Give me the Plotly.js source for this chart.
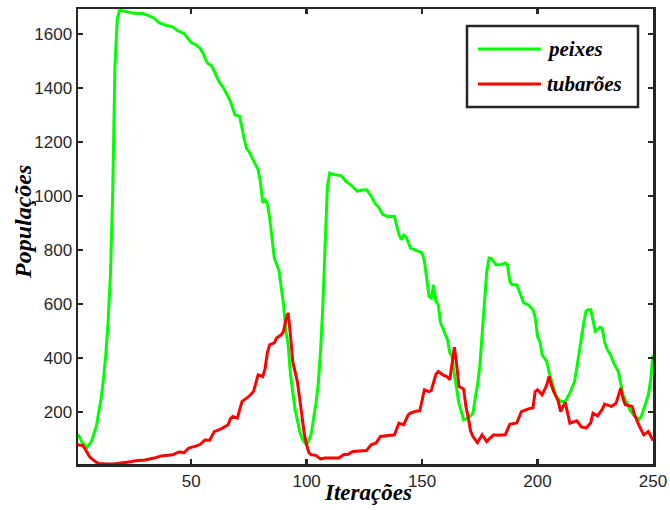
<!DOCTYPE html>
<html>
<head>
<meta charset="utf-8">
<script src="https://cdn.plot.ly/plotly-3.0.1.min.js"></script>
<style>html,body{margin:0;padding:0;background:#fff;}#chart{width:670px;height:510px;}</style>
</head>
<body>
<div id="chart"></div>
<script>
// ---- Data ----
var peixesX = [1,3,5,7,9,10,11,12,13,14,15,16,17,18,19,21,23,25,27,29,31,33,34,36,38,39,42,44,47,48,50,52,54,55,57,59,60,62,64,66,67,69,71,73,74,75,77,79,80,81,82,83,84,85,86,88,89,90,91,92,93,94,95,96,97,98,99,100,101,102,103,104,105,106,107,108,109,110,112,115,117,119,122,124,126,128,130,131,133,135,138,140,141,142,143,145,148,150,151,152,153,154,155,156,157,158,160,161,162,163,164,165,166,167,168,170,172,173,174,175,176,177,178,179,180,182,184,186,187,188,189,191,193,194,196,198,199,200,201,202,204,205,206,208,210,212,214,215,216,217,218,219,220,221,222,223,224,225,227,228,229,230,232,233,235,236,237,239,240,242,243,244,245,246,248,249,250];
var peixesY = [118,85,70,95,150,200,250,320,410,530,700,1000,1480,1655,1688,1684,1680,1676,1675,1676,1669,1662,1658,1641,1635,1632,1626,1613,1601,1590,1568,1560,1545,1530,1492,1480,1460,1424,1400,1363,1350,1300,1295,1209,1175,1165,1128,1097,1050,975,986,970,920,845,770,725,660,600,500,449,340,280,210,170,130,104,88,80,95,120,170,230,300,420,590,850,1036,1085,1079,1075,1054,1042,1017,1022,1023,999,968,961,931,924,924,857,838,855,850,807,795,789,760,700,628,622,671,610,597,530,486,468,420,406,338,290,230,202,171,178,196,250,300,370,500,620,720,770,768,745,745,752,745,684,671,671,628,604,597,579,550,480,461,412,387,345,320,260,239,240,270,290,313,363,412,474,530,573,580,579,540,499,514,510,460,435,405,381,350,300,264,230,208,185,178,172,185,210,264,320,412];

var tubaroesX = [1,3,4,5,6,7,8,9,10,12,14,17,20,23,26,30,34,37,40,42,44,45,47,49,52,54,56,58,60,63,66,67,68,70,72,75,77,79,81,82,83,84,86,87,89,90,91,92,93,94,95,96,97,98,99,100,101,102,104,106,108,110,112,114,116,118,120,123,126,128,130,132,135,138,140,142,144,145,147,149,151,153,154,156,157,159,161,162,163,164,165,166,168,169,170,171,172,174,176,178,179,181,183,186,188,190,191,193,196,198,199,200,202,204,205,206,207,209,210,212,213,214,217,219,221,223,224,226,228,229,232,234,235,236,237,238,241,242,244,246,248,249,250];
var tubaroesY = [79,76,65,48,35,27,20,14,10,8,8,9,11,15,20,23,30,38,40,42,50,52,50,67,74,81,97,96,128,138,153,175,184,178,239,258,276,338,332,360,420,449,456,474,486,499,540,567,486,387,350,313,250,190,120,80,50,42,40,27,30,30,30,30,42,44,54,56,58,80,85,110,112,116,159,153,190,196,202,205,283,276,280,340,350,338,330,320,380,440,375,295,285,220,180,130,110,87,116,91,100,116,114,116,155,159,160,202,212,215,276,283,264,300,332,300,276,240,202,236,190,159,168,145,141,160,196,186,210,230,221,233,260,289,250,227,221,190,150,116,128,110,95];

var seriesNames = ["peixes", "tubarões"];
var xTicks = [50, 100, 150, 200, 250];
var yTicks = [200, 400, 600, 800, 1000, 1200, 1400, 1600];
var xTitle = "Iterações";
var yTitle = "Populações";

// ---- Layout geometry ----
var W = 670, H = 510, L = 78, R = 17, T = 9, B = 46;
var pw = W - L - R, ph = H - T - B;
function px(x) { return (x - L) / pw; }
function py(y) { return (H - B - y) / ph; }

var axisColor = "#262626";
var serif = "Liberation Serif, Times New Roman, serif";
var sans = "Liberation Sans, Arial, Helvetica, sans-serif";

var traces = [
  {x: peixesX, y: peixesY, name: seriesNames[0], type: "scatter", mode: "lines",
   line: {color: "#00ff00", width: 3}, showlegend: false},
  {x: tubaroesX, y: tubaroesY, name: seriesNames[1], type: "scatter", mode: "lines",
   line: {color: "#ff0000", width: 3}, showlegend: false}
];

var axisCommon = {
  showgrid: false, zeroline: false, showline: true, linecolor: axisColor, linewidth: 2.5,
  mirror: "ticks", ticks: "inside", ticklen: 5, tickwidth: 2.5, tickcolor: axisColor,
  tickfont: {family: sans, size: 17, color: axisColor}
};

var layout = {
  width: W, height: H,
  margin: {l: L, r: R, t: T, b: B, pad: 0},
  paper_bgcolor: "#ffffff", plot_bgcolor: "#ffffff",
  xaxis: Object.assign({}, axisCommon, {range: [1, 250], tickvals: xTicks, ticktext: xTicks.map(String)}),
  yaxis: Object.assign({}, axisCommon, {range: [8, 1692], tickvals: yTicks, ticktext: yTicks.map(String)}),
  showlegend: false,
  shapes: [
    {type: "rect", xref: "paper", yref: "paper", x0: px(467), x1: px(638), y0: py(107), y1: py(26),
     line: {color: axisColor, width: 2.5}, fillcolor: "#ffffff", layer: "above"},
    {type: "line", xref: "paper", yref: "paper", x0: px(478), x1: px(541), y0: py(49), y1: py(49),
     line: {color: "#00ff00", width: 3}, layer: "above"},
    {type: "line", xref: "paper", yref: "paper", x0: px(478), x1: px(541), y0: py(84), y1: py(84),
     line: {color: "#ff0000", width: 3}, layer: "above"}
  ],
  annotations: [
    {xref: "paper", yref: "paper", x: px(545), y: py(49), xanchor: "left", yanchor: "middle",
     text: "<b><i>" + seriesNames[0] + "</i></b>", showarrow: false, font: {family: serif, size: 21, color: "#000"}},
    {xref: "paper", yref: "paper", x: px(545), y: py(84), xanchor: "left", yanchor: "middle",
     text: "<b><i>" + seriesNames[1] + "</i></b>", showarrow: false, font: {family: serif, size: 21, color: "#000"}},
    {xref: "paper", yref: "paper", x: px(368), y: py(492), xanchor: "center", yanchor: "middle",
     text: "<b><i>" + xTitle + "</i></b>", showarrow: false, font: {family: serif, size: 23, color: "#000"}},
    {xref: "paper", yref: "paper", x: px(23), y: py(222), xanchor: "center", yanchor: "middle", textangle: -90,
     text: "<b><i>" + yTitle + "</i></b>", showarrow: false, font: {family: serif, size: 24, color: "#000"}}
  ]
};

Plotly.newPlot("chart", traces, layout, {displayModeBar: false, staticPlot: true});
</script>
</body>
</html>
